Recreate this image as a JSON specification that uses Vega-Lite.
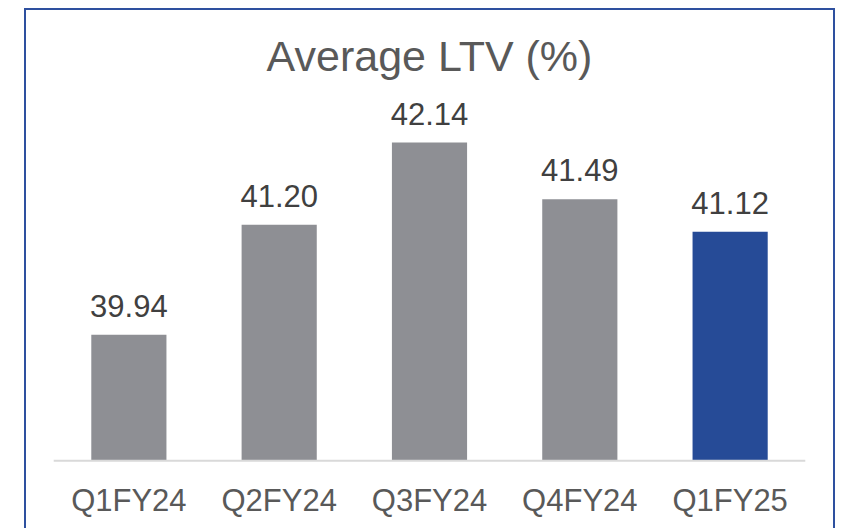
{
  "$schema": "https://vega.github.io/schema/vega-lite/v6.json",
  "autosize": {"type": "none"},
  "padding": {"left": 25, "top": 9, "right": 13, "bottom": 0},
  "width": 809,
  "height": 521,
  "background": "white",
  "config": {
    "view": {"stroke": "#2E509F", "strokeWidth": 2},
    "font": "Liberation Sans"
  },
  "title": {
    "text": "Average LTV (%)",
    "fontSize": 43,
    "font": "Liberation Sans",
    "fontWeight": "normal",
    "color": "#595959",
    "anchor": "middle",
    "baseline": "alphabetic",
    "offset": -105
  },
  "data": {
    "values": [
      {"period": "Q1FY24", "value": 39.94},
      {"period": "Q2FY24", "value": 41.20},
      {"period": "Q3FY24", "value": 42.14},
      {"period": "Q4FY24", "value": 41.49},
      {"period": "Q1FY25", "value": 41.12}
    ]
  },
  "encoding": {
    "x": {
      "field": "period",
      "type": "nominal",
      "sort": null,
      "scale": {"paddingInner": 0.5, "paddingOuter": 0.441},
      "axis": {
        "orient": "bottom",
        "offset": -69,
        "domain": false,
        "ticks": false,
        "tickSize": 0,
        "grid": false,
        "title": null,
        "labelAngle": 0,
        "labelPadding": 49,
        "labelBaseline": "alphabetic",
        "labelFontSize": 31,
        "labelFont": "Liberation Sans",
        "labelColor": "#595959"
      }
    }
  },
  "layer": [
    {
      "mark": {"type": "bar"},
      "encoding": {
        "y": {
          "field": "value",
          "type": "quantitative",
          "scale": {"domain": [37.707, 43.668], "nice": false, "zero": false},
          "axis": null
        },
        "y2": {"datum": 38.5},
        "color": {
          "condition": {"test": "datum.period === 'Q1FY25'", "value": "#264B97"},
          "value": "#8E8F94"
        }
      }
    },
    {
      "mark": {"type": "text", "baseline": "alphabetic", "dy": -18, "fontSize": 31, "font": "Liberation Sans", "color": "#404040"},
      "encoding": {
        "y": {"field": "value", "type": "quantitative"},
        "text": {"field": "value", "type": "quantitative", "format": ".2f"}
      }
    },
    {
      "data": {"values": [{"start": "Q1FY24", "end": "Q1FY25", "base": 38.5}]},
      "mark": {"type": "rule", "stroke": "#D9D9D9", "strokeWidth": 2},
      "encoding": {
        "x": {"field": "start", "type": "nominal", "bandPosition": -0.5},
        "x2": {"field": "end", "bandPosition": 1.5},
        "y": {"field": "base", "type": "quantitative"}
      }
    }
  ]
}
